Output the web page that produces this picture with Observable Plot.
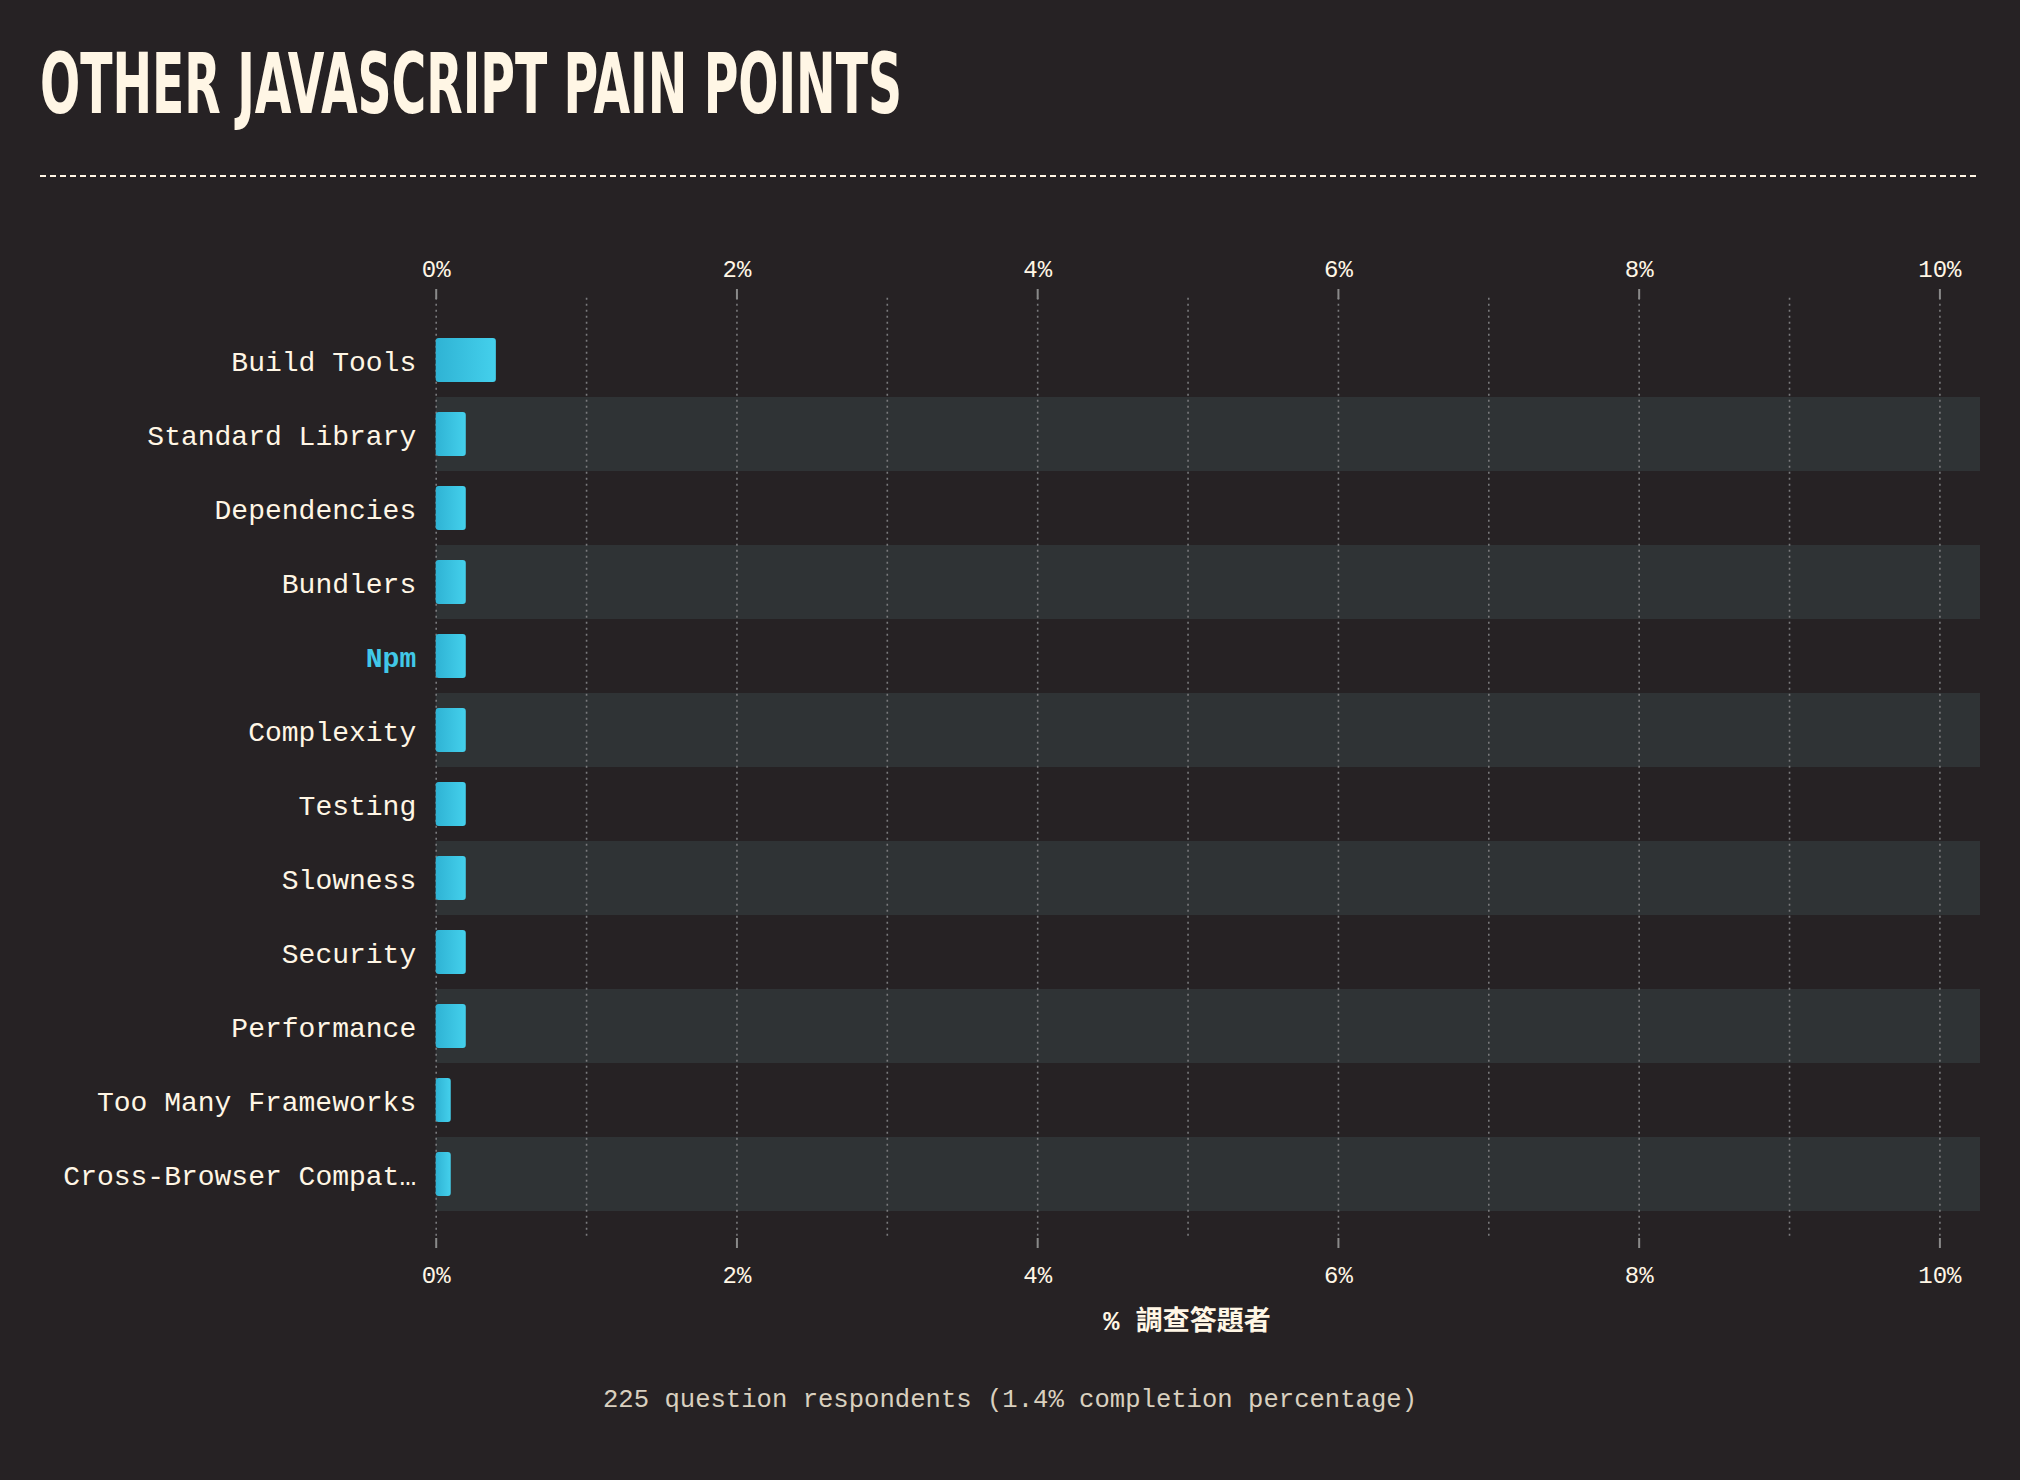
<!DOCTYPE html>
<html>
<head>
<meta charset="utf-8">
<script src="https://cdn.jsdelivr.net/npm/d3@7"></script>
<script src="https://cdn.jsdelivr.net/npm/@observablehq/plot@0.6"></script>
<style>
  html, body { margin: 0; padding: 0; background: #262224; }
  #root { position: relative; width: 2020px; height: 1480px; overflow: hidden; background: #262224; }
  #title { position: absolute; left: 40px; top: 42px; font-family: "Liberation Sans Narrow", "DejaVu Sans Condensed", Roboto, sans-serif;
           font-weight: 700; font-size: 84px; line-height: 84px; color: #fff6e5; white-space: nowrap; transform-origin: 0 0; }
  #rule { position: absolute; left: 40px; top: 175px; width: 1940px; height: 2px;
          background: repeating-linear-gradient(to right, #fff6e5 0 6px, transparent 6px 10px); }
  #chart { position: absolute; left: 0; top: 200px; }
  #xlabel { position: absolute; left: 1187px; top: 1323px; transform: translate(-50%, -50%); white-space: pre;
            font-family: "Liberation Mono", "Noto Sans CJK TC", "Noto Sans", sans-serif; font-weight: 700; font-size: 27px; line-height: 27px; color: #fff6e5; }
  #note { position: absolute; left: 1010px; top: 1388px; transform: translateX(-50%); white-space: nowrap;
          font-family: "Liberation Mono", "DejaVu Sans Mono", monospace; font-size: 25.6px; line-height: 25px; color: #d9d0bf; }
</style>
</head>
<body>
<div id="root">
  <div id="title"></div>
  <div id="rule"></div>
  <div id="chart"></div>
  <div id="xlabel"></div>
  <div id="note"></div>
</div>
<script>
// ---- data ----
const titleText = "OTHER JAVASCRIPT PAIN POINTS";
const categories = [
  "Build Tools", "Standard Library", "Dependencies", "Bundlers", "Npm", "Complexity",
  "Testing", "Slowness", "Security", "Performance", "Too Many Frameworks", "Cross-Browser Compatibility"
];
const values = [0.4, 0.2, 0.2, 0.2, 0.2, 0.2, 0.2, 0.2, 0.2, 0.2, 0.1, 0.1];
const highlighted = "Npm";
const xTicks = [0, 2, 4, 6, 8, 10];
const xGrid = [0, 1, 2, 3, 4, 5, 6, 7, 8, 9, 10];
const xMax = 10.27;
const xLabelText = "% 調查答題者";
const noteText = "225 question respondents (1.4% completion percentage)";

// ---- styles ----
const cream = "#fff6e5";
const blue = "#41c8e8";
const bandFill = "#2f3335";
const gridColor = "#7a7a7c";
const mono = "'Liberation Mono', 'DejaVu Sans Mono', monospace";

const data = categories.map((name, i) => ({name, value: values[i]}));
const truncate = (s) => s.length > 21 ? s.slice(0, 20) + "…" : s;

const plot = Plot.plot({
  width: 2020,
  height: 1100,
  marginLeft: 435.7,
  marginRight: 40,
  marginTop: 122.7,
  marginBottom: 89.3,
  style: {background: "transparent", color: cream, fontFamily: mono},
  x: {domain: [0, xMax], axis: null},
  y: {domain: categories, padding: 0, axis: null},
  marks: [
    Plot.barX(categories.filter((d, i) => i % 2 === 1), {y: (d) => d, x1: () => 0, x2: () => xMax, fill: bandFill}),
    Plot.ruleX(xGrid, {stroke: gridColor, strokeWidth: 1.6, strokeDasharray: "2,4", insetTop: -25, insetBottom: -25}),
    Plot.barX(data, {x: "value", y: "name", fill: "url(#barGrad)", rx: 3, insetTop: 15, insetBottom: 15}),
    Plot.axisX(xTicks, {anchor: "top", tickSize: 10, tickPadding: 12, dy: -24.7, tickFormat: (d) => d + "%",
      stroke: "#8a8a8a", strokeWidth: 2, fill: cream, fontSize: 24, fontFamily: mono, label: null}),
    Plot.axisX(xTicks, {anchor: "bottom", tickSize: 10, tickPadding: 17, dy: 27.3, tickFormat: (d) => d + "%",
      stroke: "#8a8a8a", strokeWidth: 2, fill: cream, fontSize: 24, fontFamily: mono, label: null}),
    Plot.axisY(categories.filter((d) => d !== highlighted), {tickSize: 0, tickPadding: 20, tickFormat: truncate,
      fill: cream, fontSize: 28, fontFamily: mono, dy: 2, label: null}),
    Plot.axisY([highlighted], {tickSize: 0, tickPadding: 20, fill: blue, fontWeight: "bold",
      fontSize: 28, fontFamily: mono, dy: 2, label: null})
  ]
});

// gradient for bars
const defs = d3.select(plot).insert("defs", ":first-child");
const grad = defs.append("linearGradient").attr("id", "barGrad").attr("x1", "0").attr("x2", "1").attr("y1", "0").attr("y2", "0");
grad.append("stop").attr("offset", "0%").attr("stop-color", "#2fb3d4");
grad.append("stop").attr("offset", "100%").attr("stop-color", "#44d0ec");

document.getElementById("chart").appendChild(plot);

const t = document.getElementById("title");
t.textContent = titleText;
const w = t.getBoundingClientRect().width;
t.style.transform = `scaleX(${862 / w})`;

document.getElementById("xlabel").textContent = xLabelText;
document.getElementById("note").textContent = noteText;
</script>
</body>
</html>
